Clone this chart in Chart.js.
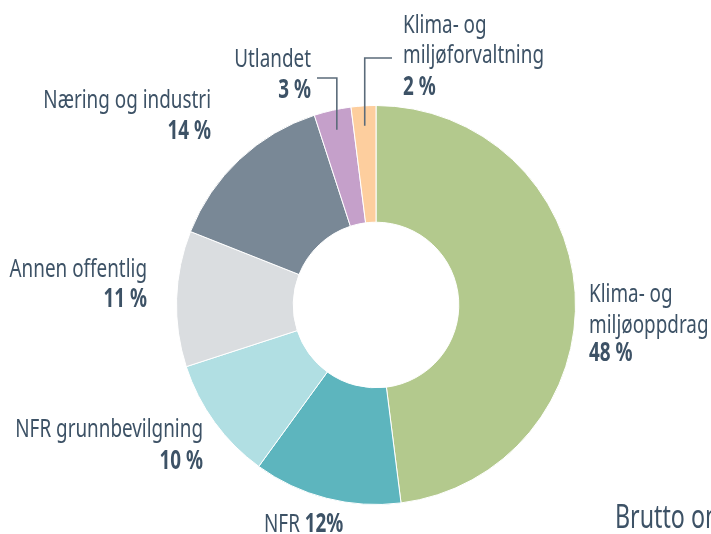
<!DOCTYPE html>
<html>
<head>
<meta charset="utf-8">
<script src="https://cdn.jsdelivr.net/npm/chart.js@4"></script>
<style>
  html, body { margin:0; padding:0; background:#fff; }
  canvas { display:block; }
</style>
</head>
<body>
<canvas id="omsChart" width="711" height="534"></canvas>
<script>
// Fordeling av inntekter — doughnut med egne etiketter (tegnes i plugin under)
const categories = ['Klima- og miljøoppdrag', 'NFR', 'NFR grunnbevilgning', 'Annen offentlig', 'Næring og industri', 'Utlandet', 'Klima- og miljøforvaltning'];
const shares = [48, 12, 10, 11, 14, 3, 2];
const pctTexts = ['48 %', '12%', '10 %', '11 %', '14 %', '3 %', '2 %'];
const sliceColors = ['#b3c98d', '#5db5be', '#b1dfe3', '#dadde0', '#798896', '#c5a0ca', '#fdce9e'];

const TXT = '#3d5266';
const FONT = '"Noto Sans", "Open Sans", sans-serif';

// plassering av etikettene (baseline-y, justering)
const labelLayout = [
  {lines:['Klima- og','miljøoppdrag'], x:589, ys:[302,333], pctY:361, align:'left'},
  {inline:true, x:264, y:532},
  {lines:['NFR grunnbevilgning'], x:203, ys:[437], pctY:469, align:'right'},
  {lines:['Annen offentlig'], x:147, ys:[277], pctY:307, align:'right'},
  {lines:['Næring og industri'], x:211, ys:[108], pctY:139, align:'right'},
  {lines:['Utlandet'], x:311, ys:[67], pctY:98, align:'right', leader:{y:78, x:317}},
  {lines:['Klima- og','miljøforvaltning'], x:403, ys:[33,63], pctY:95, align:'left', leader:{y:58, x:392}}
];

// smal skrift: vanlig font presset sammen horisontalt
let SX = 0.74;
function txt(ctx, s, x, y, align, bold, size){
  ctx.save();
  ctx.font = `${bold ? 'bold ' : ''}${size}px ${FONT}`;
  ctx.textAlign = align;
  ctx.translate(x, y);
  ctx.scale(SX, 1);
  ctx.fillText(s, 0, 0);
  const w = ctx.measureText(s).width * SX;
  ctx.restore();
  return w;
}

const labelPlugin = {
  id:'omsLabels',
  afterDraw(chart){
    const ctx = chart.ctx;
    const arcs = chart.getDatasetMeta(0).data;
    ctx.save();
    ctx.font = `26px ${FONT}`;
    SX = 141 / ctx.measureText('miljøforvaltning').width;
    ctx.fillStyle = TXT;
    ctx.textBaseline = 'alphabetic';
    labelLayout.forEach((L, i) => {
      if(L.inline){
        const w = txt(ctx, categories[i] + ' ', L.x, L.y, 'left', false, 26);
        txt(ctx, pctTexts[i], L.x + w, L.y, 'left', true, 26);
        return;
      }
      L.lines.forEach((t, k) => txt(ctx, t, L.x, L.ys[k], L.align, false, 26));
      txt(ctx, pctTexts[i], L.x, L.pctY, L.align, true, 26);

      if(L.leader){
        const a = arcs[i];
        const mid = (a.startAngle + a.endAngle) / 2;
        const r = a.outerRadius * 0.9;
        const px = a.x + Math.cos(mid) * r;
        const py = a.y + Math.sin(mid) * r;
        ctx.strokeStyle = '#5b6b7a';
        ctx.lineWidth = 1.6;
        ctx.beginPath();
        ctx.moveTo(px, py);
        ctx.lineTo(px, L.leader.y);
        ctx.lineTo(L.leader.x, L.leader.y);
        ctx.stroke();
      }
    });
    txt(ctx, 'Brutto omsetning', 615, 528, 'left', false, 32);
    ctx.restore();
  }
};

new Chart(document.getElementById('omsChart'), {
  type:'doughnut',
  data:{
    labels: categories,
    datasets:[{
      data: shares,
      backgroundColor: sliceColors,
      borderColor:'#ffffff',
      borderWidth:1,
      hoverOffset:0
    }]
  },
  options:{
    responsive:false,
    animation:false,
    cutout:'41.5%',
    layout:{padding:{left:176, right:135, top:105, bottom:29}},
    plugins:{legend:{display:false}, tooltip:{enabled:false}}
  },
  plugins:[labelPlugin]
});
</script>
</body>
</html>
